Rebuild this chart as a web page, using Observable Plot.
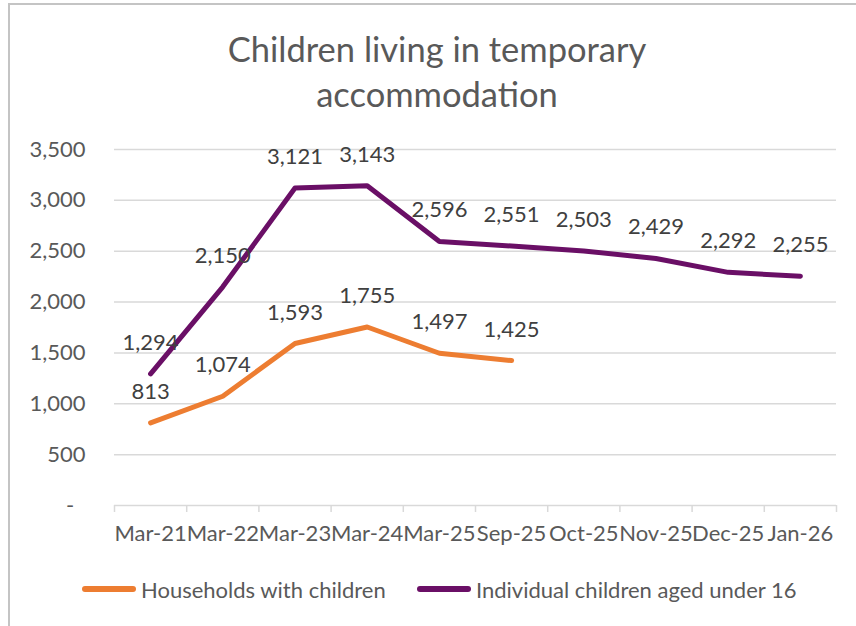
<!DOCTYPE html>
<html><head><meta charset="utf-8">
<script src="https://cdn.jsdelivr.net/npm/d3@7"></script>
<script src="https://cdn.jsdelivr.net/npm/@observablehq/plot@0.6"></script>
<style>
body{margin:0;background:#fff;}
#wrap{position:relative;width:856px;height:626px;overflow:hidden;font-family:Lato,"Open Sans",sans-serif;color:#595959;background:#fff;}
#frame{position:absolute;left:8px;top:3px;width:900px;height:700px;border-top:2px solid #c4c4c4;border-left:2px solid #c4c4c4;}
#title{position:absolute;left:0;width:874px;top:26px;text-align:center;font-size:34.5px;line-height:45px;color:#595959;}
#chart{position:absolute;left:0;top:120px;}
.leg{position:absolute;top:576px;height:26px;display:flex;align-items:center;font-size:22px;color:#595959;white-space:nowrap;}
.sw{display:inline-block;width:54px;height:6px;border-radius:3px;margin-right:5px;flex:none;}
</style></head>
<body>
<div id="wrap">
  <div id="frame"></div>
  <div id="title">Children living in temporary<br>accommodation</div>
  <div id="chart"></div>
  <div class="leg" style="left:82px"><span class="sw" style="background:#ED7D31"></span>Households with children</div>
  <div class="leg" style="left:417px"><span class="sw" style="background:#6A0F66"></span>Individual children aged under 16</div>
</div>
<script>
const categories = ["Mar-21","Mar-22","Mar-23","Mar-24","Mar-25","Sep-25","Oct-25","Nov-25","Dec-25","Jan-26"];
const households = [813, 1074, 1593, 1755, 1497, 1425];
const children = [1294, 2150, 3121, 3143, 2596, 2551, 2503, 2429, 2292, 2255];
const yTicks = [0, 500, 1000, 1500, 2000, 2500, 3000, 3500];
const seriesNames = ["Households with children", "Individual children aged under 16"];
const seriesColors = ["#ED7D31", "#6A0F66"];

const rows = (vals, s) => vals.map((v, i) => ({i, cat: categories[i], v, s}));
const hh = rows(households, seriesNames[0]);
const ch = rows(children, seriesNames[1]);
const fmt = d3.format(",");
const xPos = d => d.i + 0.5;

const chart = Plot.plot({
  width: 856,
  height: 440,
  marginLeft: 114,
  marginRight: 20,
  marginTop: 29,
  marginBottom: 55,
  style: {fontFamily: "Lato, 'Open Sans', sans-serif", color: "#595959", background: "transparent"},
  x: {type: "linear", domain: [0, categories.length]},
  y: {domain: [0, 3500]},
  marks: [
    Plot.gridY(yTicks, {stroke: "#d9d9d9", strokeOpacity: 1, strokeWidth: 1.5}),
    Plot.axisY(yTicks, {tickSize: 0, tickPadding: 29, label: null, fontSize: 22, fill: "#595959",
      tickFormat: d => d === 0 ? "-\u00a0\u00a0" : fmt(d)}),
    Plot.axisX(d3.range(categories.length + 1), {tickSize: 7, stroke: "#d9d9d9", strokeWidth: 1.5, strokeOpacity: 1, tickFormat: () => "", label: null}),
    Plot.axisX(categories.map((c, i) => i + 0.5), {tickSize: 0, tickPadding: 20, label: null, fontSize: 22, fill: "#595959",
      tickFormat: d => categories[Math.floor(d)]}),
    Plot.line(hh, {x: xPos, y: "v", stroke: seriesColors[0], strokeWidth: 5, strokeLinecap: "round", strokeLinejoin: "round"}),
    Plot.line(ch, {x: xPos, y: "v", stroke: seriesColors[1], strokeWidth: 5, strokeLinecap: "round", strokeLinejoin: "round"}),
    Plot.text(hh, {x: xPos, y: "v", text: d => fmt(d.v), dy: -31, fontSize: 22, fill: "#404040"}),
    Plot.text(ch, {x: xPos, y: "v", text: d => fmt(d.v), dy: -31, fontSize: 22, fill: "#404040"})
  ]
});
document.getElementById("chart").appendChild(chart);
</script>
</body></html>
